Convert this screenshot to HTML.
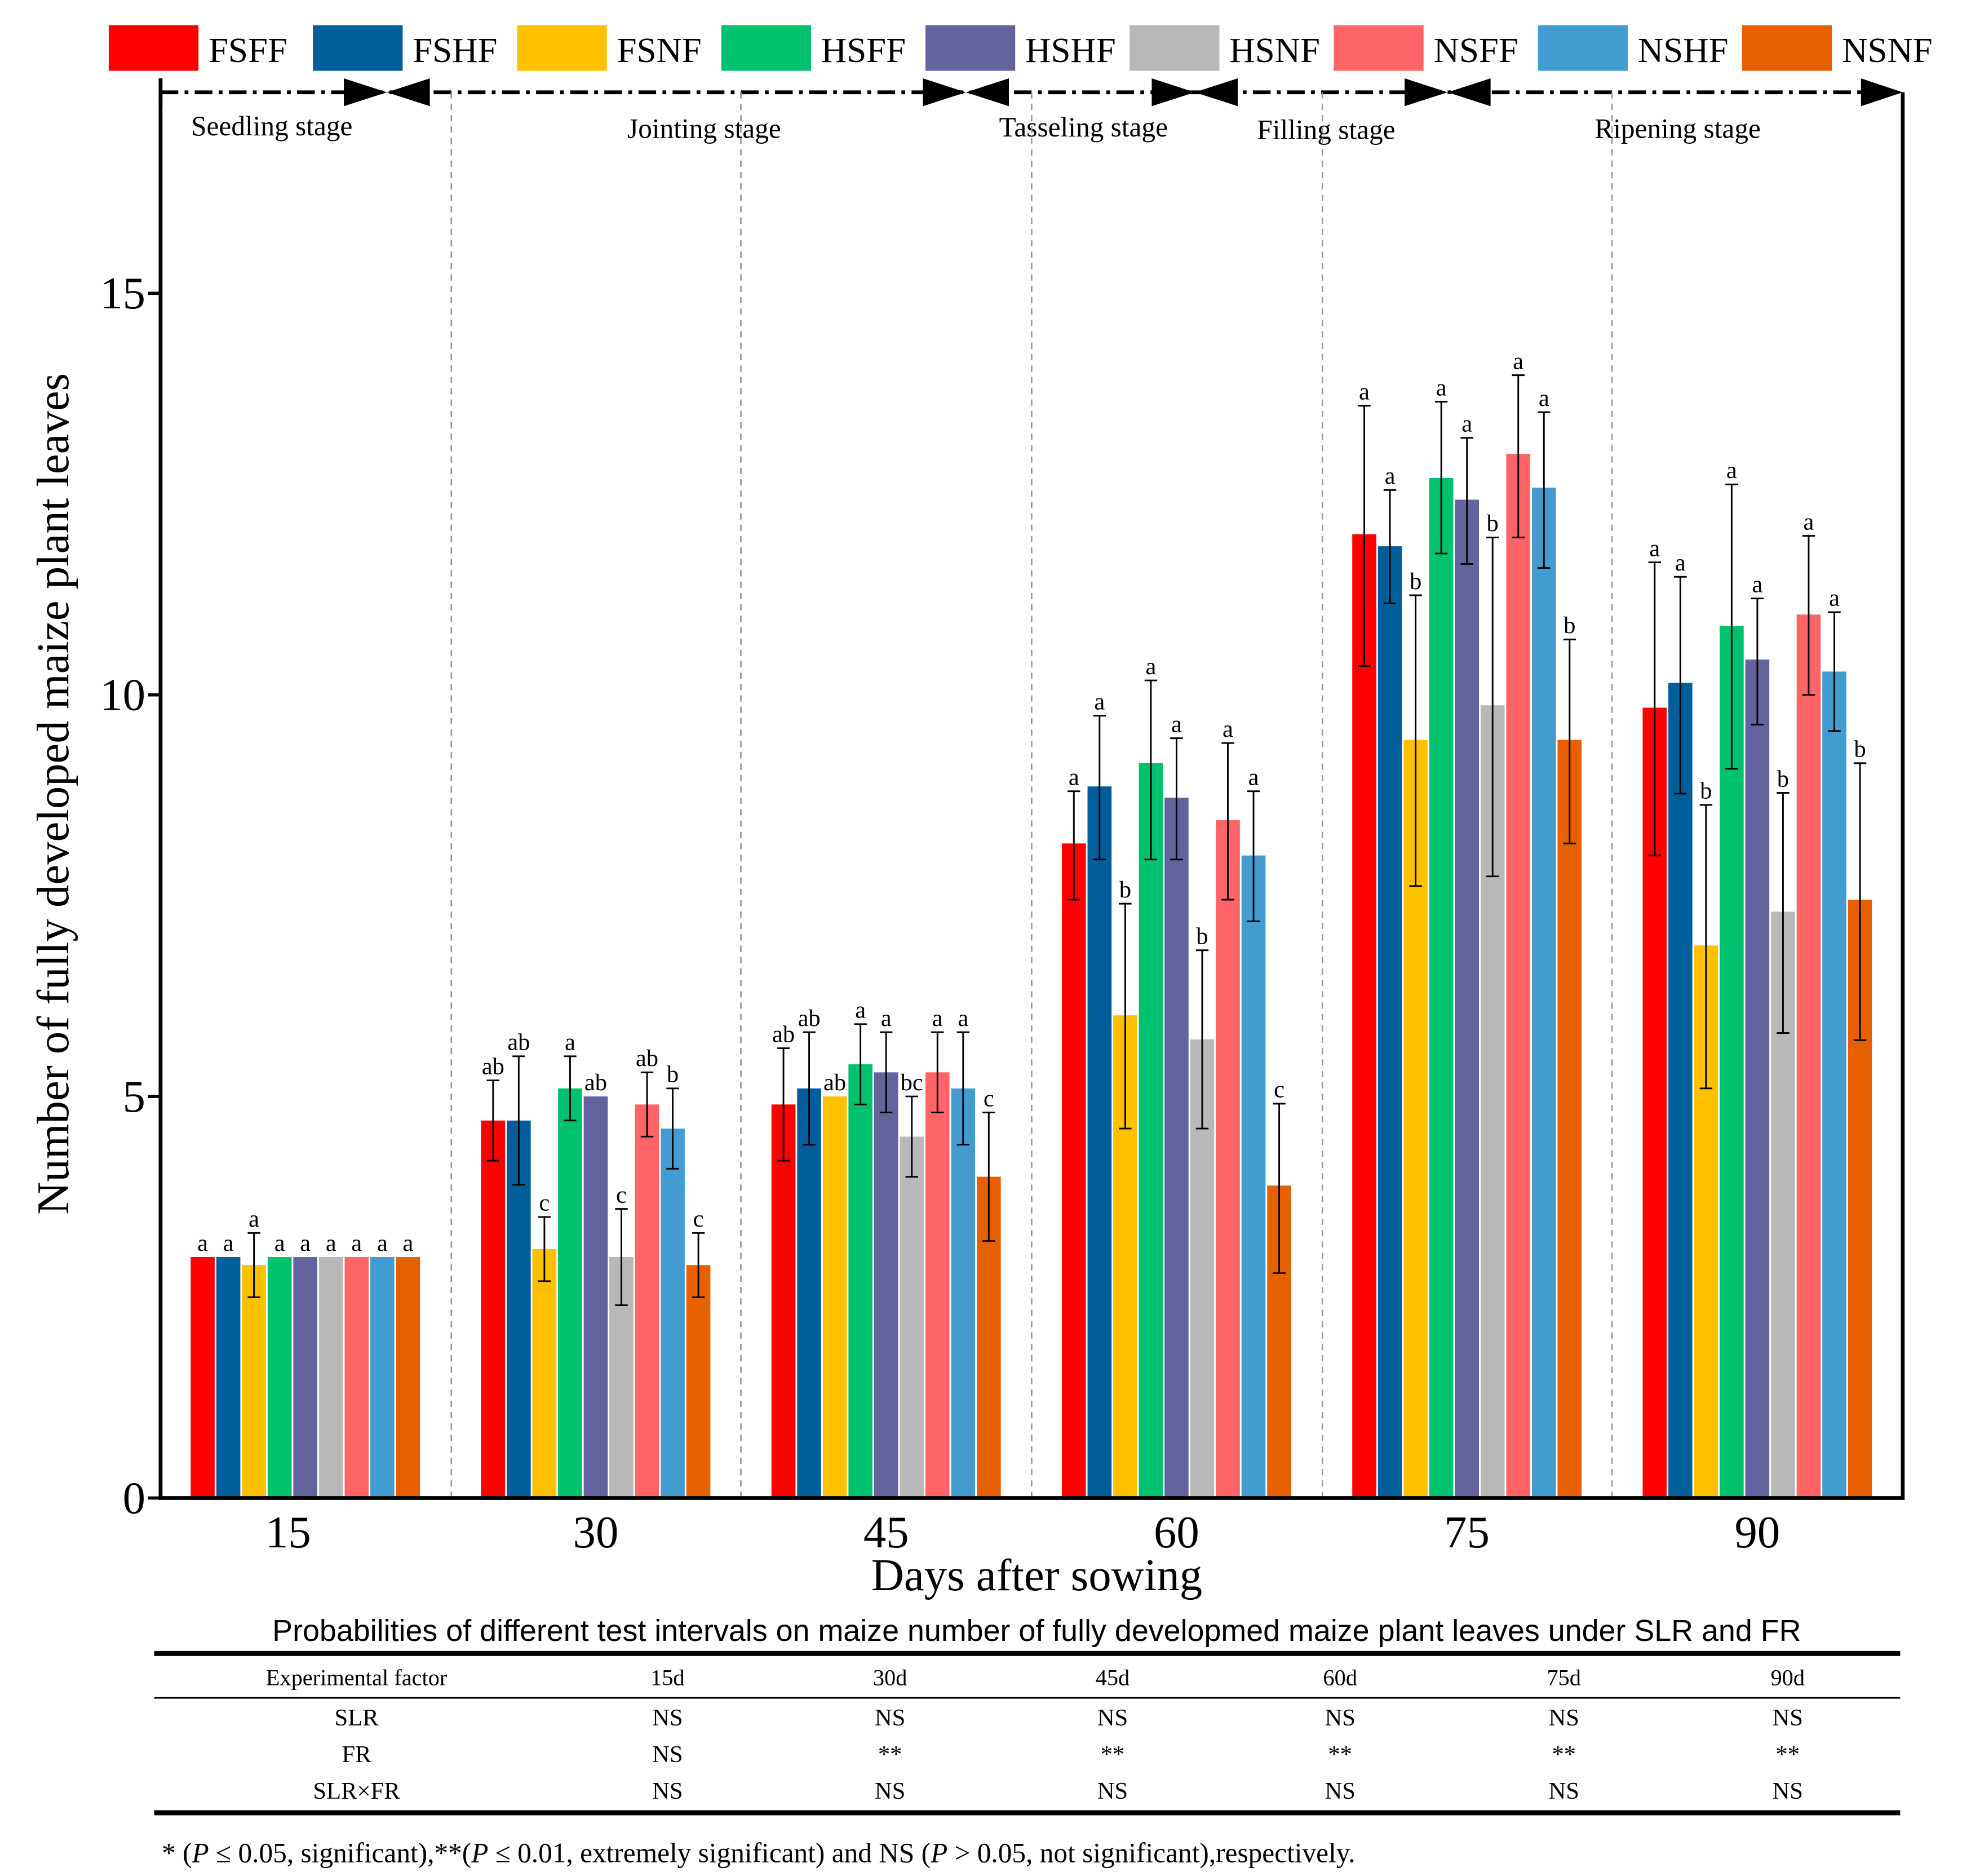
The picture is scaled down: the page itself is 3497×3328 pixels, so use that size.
<!DOCTYPE html>
<html><head><meta charset="utf-8"><style>html,body{margin:0;padding:0;background:#fff}svg{display:block}</style></head>
<body>
<svg id="chart" width="3497" height="3328" viewBox="0 0 1559 1484" preserveAspectRatio="none" xmlns="http://www.w3.org/2000/svg" font-family="'Liberation Serif', serif">
<rect width="1559" height="1484" fill="#fff"/>
<g id="legend"></g>
<g id="stages"></g>
<g id="plot"></g>
<g id="table"></g>
</svg>
<script>
const categories=["15","30","45","60","75","90"];
const series=["FSFF","FSHF","FSNF","HSFF","HSHF","HSNF","NSFF","NSHF","NSNF"];
const colors=["#ff0000","#005f9a","#ffc000","#00c16e","#63639e","#b8b8b8","#ff6466","#439ccf","#e76000"];
const means=[
[3,3,2.9,3,3,3,3,3,3],
[4.7,4.7,3.1,5.1,5.0,3.0,4.9,4.6,2.9],
[4.9,5.1,5.0,5.4,5.3,4.5,5.3,5.1,4.0],
[8.15,8.86,6.01,9.15,8.72,5.71,8.44,8.0,3.89],
[12.0,11.85,9.44,12.7,12.43,9.87,13.0,12.58,9.44],
[9.84,10.15,6.88,10.86,10.44,7.3,11.0,10.29,7.45]];
const uppers=[
[null,null,3.3,null,null,null,null,null,null],
[5.2,5.5,3.5,5.5,null,3.6,5.3,5.1,3.3],
[5.6,5.8,null,5.9,5.8,5.0,5.8,5.8,4.8],
[8.8,9.74,7.4,10.18,9.46,6.82,9.4,8.8,4.91],
[13.6,12.55,11.24,13.65,13.2,11.96,13.98,13.52,10.69],
[11.65,11.47,8.63,12.62,11.2,8.78,11.98,11.03,9.15]];
const lowers=[
[null,null,2.5,null,null,null,null,null,null],
[4.2,3.9,2.7,4.7,null,2.4,4.5,4.1,2.5],
[4.2,4.4,null,4.9,4.8,4.0,4.8,4.4,3.2],
[7.45,7.95,4.6,7.95,7.95,4.6,7.45,7.18,2.8],
[10.36,11.14,7.62,11.76,11.63,7.74,11.96,11.58,8.15],
[8.0,8.77,5.1,9.08,9.63,5.79,10.0,9.55,5.7]];
const letters=[
["a","a","a","a","a","a","a","a","a"],
["ab","ab","c","a","ab","c","ab","b","c"],
["ab","ab","ab","a","a","bc","a","a","c"],
["a","a","b","a","a","b","a","a","c"],
["a","a","b","a","a","b","a","a","b"],
["a","a","b","a","a","b","a","a","b"]];
const yTicks=[0,5,10,15];
const stages=["Seedling stage","Jointing stage","Tasseling stage","Filling stage","Ripening stage"];
const tableCols=["Experimental factor","15d","30d","45d","60d","75d","90d"];
const tableRows=[["SLR","NS","NS","NS","NS","NS","NS"],["FR","NS","**","**","**","**","**"],["SLR×FR","NS","NS","NS","NS","NS","NS"]];

const NS="http://www.w3.org/2000/svg";
function mk(tag,attrs,parent,text){const e=document.createElementNS(NS,tag);for(const k in attrs)e.setAttribute(k,attrs[k]);if(text!==undefined)e.textContent=text;parent.appendChild(e);return e;}
const L=127,R=1505,T=73,B=1185;
const y=v=>B-v*(B-232)/15;
const gx=i=>241.5+i*229.7;
const plot=document.getElementById('plot');
[357,586,816,1046,1275].forEach(x=>{const l=mk('line',{x1:x,x2:x,y1:T,y2:B,stroke:'#999','stroke-dasharray':'5,4','stroke-width':1.2},plot);

});
const pitch=20.3,bw=19;
categories.forEach((c,i)=>{series.forEach((s,j)=>{
 const cx=gx(i)+(j-4)*pitch;const v=means[i][j];
 const r=mk('rect',{x:cx-bw/2,y:y(v),width:bw,height:B-y(v),fill:colors[j]},plot);
 
 
 let top=y(v);
 if(uppers[i][j]!==null){const u=y(uppers[i][j]),lo=y(lowers[i][j]);
  const g=mk('g',{stroke:'#000','stroke-width':1.3},plot);
  
  
  mk('line',{x1:cx,x2:cx,y1:u,y2:lo},g);mk('line',{x1:cx-5,x2:cx+5,y1:u,y2:u},g);mk('line',{x1:cx-5,x2:cx+5,y1:lo,y2:lo},g);top=u;}
 const t=mk('text',{x:cx,y:top-5,'text-anchor':'middle','font-size':19},plot,letters[i][j]);
 
 
});
 const t=mk('text',{x:i===0?228:gx(i),y:1224,'text-anchor':'middle','font-size':36},plot,c);
 
 
});
const fr=mk('path',{d:`M${L},${T}V${B}H${R}V${T}`,fill:'none',stroke:'#000','stroke-width':3},plot);


yTicks.forEach(v=>{mk('line',{x1:L-10,x2:L,y1:y(v),y2:y(v),stroke:'#000','stroke-width':2.5},plot);
 const t=mk('text',{x:L-12,y:y(v)+12,'text-anchor':'end','font-size':36},plot,v);
 
 });
let t=mk('text',{transform:'translate(54,628) rotate(-90)','text-anchor':'middle','font-size':36},plot,'Number of fully developed maize plant leaves');


t=mk('text',{x:820,y:1258,'text-anchor':'middle','font-size':36},plot,'Days after sowing');


const st=document.getElementById('stages');
mk('line',{x1:L,x2:1490,y1:T,y2:T,stroke:'#000','stroke-width':3,'stroke-dasharray':'14,5,3,5'},st);
[306,764,945,1145].forEach(x=>{mk('polygon',{points:`${x-34},62 ${x},73 ${x-34},84`,fill:'#000'},st);mk('polygon',{points:`${x+34},62 ${x},73 ${x+34},84`,fill:'#000'},st);});
mk('polygon',{points:'1472,62 1505,73 1472,84',fill:'#000'},st);
mk('line',{x1:L,x2:L,y1:62,y2:84,stroke:'#000','stroke-width':3},st);
[[215,100],[557,102],[857,101],[1049,103],[1327,102]].forEach((p,k)=>{const e=mk('text',{x:p[0],y:p[1]+7,'text-anchor':'middle','font-size':22},st,stages[k]);
 
 });
const lg=document.getElementById('legend');
series.forEach((s,j)=>{const x0=86+j*161.5;
 const r=mk('rect',{x:x0,y:20,width:71,height:36,fill:colors[j]},lg);
 
 
 const e=mk('text',{x:x0+79,y:49,'font-size':28},lg,s);
 
 });
const tb=document.getElementById('table');
t=mk('text',{x:820,y:1298,'text-anchor':'middle','font-size':24,'font-family':"'Liberation Sans', sans-serif"},tb,'Probabilities of  different test intervals on maize number of fully developmed maize plant leaves under SLR and FR');


mk('line',{x1:122,x2:1503,y1:1308,y2:1308,stroke:'#000','stroke-width':4},tb);
mk('line',{x1:122,x2:1503,y1:1343,y2:1343,stroke:'#000','stroke-width':1.5},tb);
mk('line',{x1:122,x2:1503,y1:1434,y2:1434,stroke:'#000','stroke-width':4},tb);
const colx=[282,528,704,880,1060,1237,1414];
tableCols.forEach((c,k)=>{const e=mk('text',{x:colx[k],y:1333,'text-anchor':'middle','font-size':18},tb,c);
 
 });
tableRows.forEach((row,ri)=>row.forEach((c,k)=>{const e=mk('text',{x:colx[k],y:1365+ri*29,'text-anchor':'middle','font-size':19},tb,c);
 
 }));
t=mk('text',{x:128,y:1473,'font-size':22},tb);
t.innerHTML='* (<tspan font-style="italic">P</tspan> ≤ 0.05, significant),**(<tspan font-style="italic">P</tspan> ≤ 0.01, extremely significant) and NS (<tspan font-style="italic">P</tspan> &gt; 0.05, not significant),respectively.';


</script>
</body></html>
